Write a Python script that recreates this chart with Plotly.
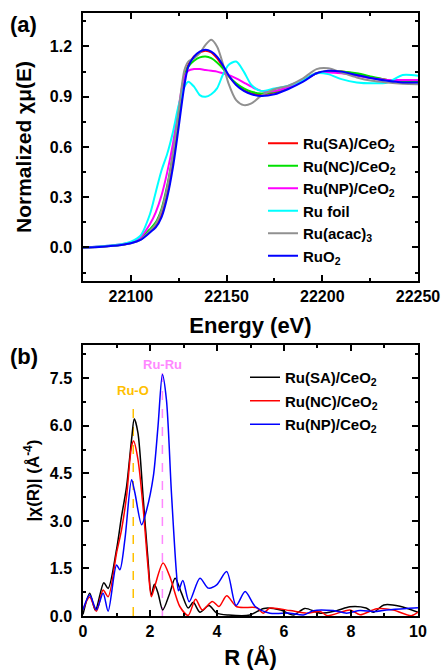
import plotly.graph_objects as go

# ---------------- Panel (a): XANES ----------------
energy = [22075, 22085, 22095, 22100, 22105, 22110, 22113, 22116, 22119, 22122,
          22125, 22128, 22130, 22133, 22136, 22139, 22142, 22145, 22148, 22151,
          22155, 22159, 22163, 22168, 22175, 22182, 22190, 22197, 22203, 22210,
          22218, 22226, 22234, 22242, 22250]

xanes_sa = [0.0, 0.006, 0.016, 0.027, 0.05, 0.10, 0.13, 0.20, 0.34, 0.53,
            0.78, 1.01, 1.09, 1.14, 1.165, 1.175, 1.165, 1.13, 1.08, 1.025,
            0.975, 0.94, 0.92, 0.915, 0.925, 0.95, 0.995, 1.04, 1.05, 1.05,
            1.035, 1.015, 1.0, 0.99, 0.99]
xanes_nc = [0.0, 0.006, 0.017, 0.028, 0.055, 0.11, 0.15, 0.23, 0.37, 0.56,
            0.80, 1.02, 1.08, 1.115, 1.135, 1.14, 1.13, 1.105, 1.07, 1.025,
            0.98, 0.95, 0.93, 0.92, 0.93, 0.955, 1.0, 1.04, 1.05, 1.05,
            1.04, 1.02, 1.0, 0.99, 0.99]
xanes_np = [0.0, 0.008, 0.02, 0.03, 0.06, 0.14, 0.21, 0.31, 0.45, 0.62,
            0.84, 1.02, 1.055, 1.065, 1.065, 1.06, 1.055, 1.05, 1.04, 1.03,
            1.01, 0.985, 0.96, 0.935, 0.935, 0.955, 0.995, 1.04, 1.045, 1.04,
            1.025, 1.01, 1.0, 1.0, 1.0]
xanes_foil = [0.0, 0.008, 0.02, 0.035, 0.07, 0.20, 0.33, 0.46, 0.56, 0.69,
              0.85, 0.96, 0.99, 0.96, 0.91, 0.90, 0.915, 0.95, 1.03, 1.09,
              1.11, 1.05, 0.97, 0.935, 0.95, 0.965, 1.0, 1.04, 1.035, 1.005,
              0.985, 0.98, 0.985, 1.03, 1.025]
xanes_acac = [0.0, 0.005, 0.015, 0.025, 0.045, 0.10, 0.14, 0.22, 0.36, 0.56,
              0.82, 1.06, 1.11, 1.13, 1.16, 1.21, 1.24, 1.20, 1.10, 0.98,
              0.88, 0.85, 0.86, 0.905, 0.945, 0.965, 1.01, 1.065, 1.07, 1.045,
              1.015, 0.995, 0.985, 0.978, 0.975]
xanes_ruo2 = [0.0, 0.005, 0.015, 0.025, 0.045, 0.09, 0.12, 0.18, 0.30, 0.48,
              0.72, 0.97, 1.08, 1.14, 1.17, 1.18, 1.17, 1.14, 1.09, 1.03,
              0.97, 0.935, 0.915, 0.905, 0.915, 0.945, 0.99, 1.04, 1.055, 1.05,
              1.03, 1.01, 0.995, 0.985, 0.985]

xanes_names = ["Ru(SA)/CeO<sub>2</sub>", "Ru(NC)/CeO<sub>2</sub>", "Ru(NP)/CeO<sub>2</sub>",
               "Ru foil", "Ru(acac)<sub>3</sub>", "RuO<sub>2</sub>"]
xanes_colors = ["#FF0000", "#00E000", "#FF00FF", "#00FFFF", "#909090", "#0000FF"]

energy_ticks = [22100, 22150, 22200, 22250]
xanes_yticks = [0.0, 0.3, 0.6, 0.9, 1.2]

# ---------------- Panel (b): FT-EXAFS ----------------
r_sa = [0.0, 0.2, 0.37, 0.62, 0.75, 1.0, 1.15, 1.3, 1.45, 1.53, 1.64, 1.8, 1.94,
        2.04, 2.13, 2.24, 2.38, 2.59, 2.75, 2.94, 3.14, 3.29, 3.49, 3.76, 3.99,
        4.35, 4.98, 5.4, 5.9, 6.28, 6.62, 7.08, 7.57, 7.97, 8.45, 8.67, 8.98,
        9.46, 10.0]
ft_sa = [0.05, 0.72, 0.18, 1.05, 0.87, 2.09, 3.14, 4.08, 5.57, 6.22, 5.78, 3.67, 1.77,
         0.66, 1.0, 0.72, 0.19, 0.72, 1.19, 0.72, 0.25, 0.43, 0.12, 0.33, 0.09,
         0.03, 0.03, 0.24, 0.19, 0.03, 0.24, 0.09, 0.17, 0.29, 0.25, 0.12, 0.35,
         0.31, 0.12]

r_nc = [0.0, 0.2, 0.4, 0.6, 0.75, 1.0, 1.15, 1.3, 1.45, 1.51, 1.64, 1.8, 1.94,
        2.04, 2.14, 2.39, 2.59, 2.89, 3.14, 3.36, 3.56, 3.86, 4.06, 4.29, 4.59,
        5.19, 5.38, 5.58, 6.18, 6.68, 7.08, 7.3, 7.97, 8.27, 8.77, 9.26, 9.8, 10.0]
ft_nc = [0.2, 0.6, 0.15, 0.82, 0.61, 1.98, 2.72, 3.78, 5.36, 5.52, 4.94, 3.35, 1.56,
         0.61, 0.93, 1.67, 1.25, 0.30, 0.02, 0.53, 0.19, 0.46, 0.30, 0.64, 0.29,
         0.26, 0.09, 0.25, 0.17, 0.09, 0.14, 0.01, 0.19, 0.04, 0.23, 0.19, 0.01, 0.12]

r_np = [0.0, 0.2, 0.4, 0.6, 0.75, 1.0, 1.1, 1.25, 1.45, 1.55, 1.75, 1.9, 2.1,
        2.24, 2.37, 2.49, 2.64, 2.79, 2.85, 2.98, 3.17, 3.49, 3.74, 3.99, 4.29,
        4.57, 4.84, 5.14, 5.58, 6.18, 6.58, 6.88, 7.47, 7.87, 8.27, 8.67, 9.06,
        9.66, 10.0]
ft_np = [0.2, 0.66, 0.2, 0.72, 0.15, 1.61, 1.46, 2.41, 4.3, 3.88, 2.88, 3.35, 4.41,
         6.0, 7.62, 6.83, 3.88, 1.35, 0.8, 1.12, 0.45, 1.19, 0.88, 0.98, 1.4,
         0.33, 0.77, 0.3, 0.09, 0.09, 0.03, 0.17, 0.17, 0.09, 0.17, 0.14, 0.19,
         0.24, 0.26]

ft_names = ["Ru(SA)/CeO<sub>2</sub>", "Ru(NC)/CeO<sub>2</sub>", "Ru(NP)/CeO<sub>2</sub>"]
ft_colors = ["#000000", "#FF0000", "#0000FF"]

r_ticks = [0, 2, 4, 6, 8, 10]
ft_yticks = [0.0, 1.5, 3.0, 4.5, 6.0, 7.5]

# reference bond positions
ruo_r, ruo_top = 1.5, 6.8
ruru_r, ruru_top = 2.37, 7.9

FONT = "Liberation Sans, Arial, sans-serif"


def bold(vals, fmt):
    return ["<b>" + fmt.format(v) + "</b>" for v in vals]


fig = go.Figure()

for i, (y, name, col) in enumerate(zip(
        [xanes_sa, xanes_nc, xanes_np, xanes_foil, xanes_acac, xanes_ruo2],
        xanes_names, xanes_colors)):
    fig.add_trace(go.Scatter(x=energy, y=y, mode="lines", name=name,
                             line=dict(color=col, width=2, shape="spline", smoothing=0.8),
                             xaxis="x", yaxis="y", legend="legend",
                             legendgroup="a%d" % i))

# dashed reference lines (drawn first so curves go over them)
fig.add_trace(go.Scatter(x=[ruo_r, ruo_r], y=[0, ruo_top], mode="lines",
                         line=dict(color="#FFC000", width=1.5, dash="dash"),
                         showlegend=False, xaxis="x2", yaxis="y2"))
fig.add_trace(go.Scatter(x=[ruru_r, ruru_r], y=[0, ruru_top], mode="lines",
                         line=dict(color="#FF88FF", width=1.5, dash="dash"),
                         showlegend=False, xaxis="x2", yaxis="y2"))

for i, (xr, y, name, col) in enumerate(zip([r_sa, r_nc, r_np], [ft_sa, ft_nc, ft_np],
                                             ft_names, ft_colors)):
    fig.add_trace(go.Scatter(x=xr, y=y, mode="lines", name=name,
                             line=dict(color=col, width=1.5, shape="spline", smoothing=0.8),
                             xaxis="x2", yaxis="y2", legend="legend2",
                             legendgroup="b%d" % i))

axis_common = dict(showline=True, linecolor="black", linewidth=1.5, mirror="allticks",
                   ticks="inside", ticklen=6, tickwidth=1.5, tickcolor="black",
                   showgrid=False, zeroline=False, automargin=False,
                   tickfont=dict(family=FONT, size=16, color="black"))

fig.update_layout(
    width=442, height=670,
    margin=dict(l=0, r=0, t=0, b=0),
    paper_bgcolor="white", plot_bgcolor="white",
    font=dict(family=FONT, color="black"),
    xaxis=dict(domain=[0.1878, 0.9457], anchor="y", range=[22075, 22250],
               tickvals=energy_ticks, ticktext=bold(energy_ticks, "{}"),
               minor=dict(ticks="inside", ticklen=3, tickwidth=1.5, dtick=25, tick0=22075),
               title=dict(text="<b>Energy (eV)</b>", font=dict(family=FONT, size=22), standoff=14),
               **axis_common),
    yaxis=dict(domain=[0.5806, 0.9806], anchor="x", range=[-0.2, 1.4],
               tickvals=xanes_yticks, ticktext=bold(xanes_yticks, "{:.1f}"),
               minor=dict(ticks="inside", ticklen=3, tickwidth=1.5, dtick=0.15, tick0=0),
               ticklabelstandoff=6,
               title=dict(text="<b>Normalized χμ(E)</b>", font=dict(family=FONT, size=21), standoff=12),
               **axis_common),
    xaxis2=dict(domain=[0.1878, 0.9457], anchor="y2", range=[0, 10],
                tickvals=r_ticks, ticktext=bold(r_ticks, "{}"),
                minor=dict(ticks="inside", ticklen=3, tickwidth=1.5, dtick=1, tick0=0),
                title=dict(text="<b>R (Å)</b>", font=dict(family=FONT, size=22), standoff=14),
                **axis_common),
    yaxis2=dict(domain=[0.0806, 0.4851], anchor="x2", range=[0, 8.55],
                tickvals=ft_yticks, ticktext=bold(ft_yticks, "{:.1f}"),
                minor=dict(ticks="inside", ticklen=3, tickwidth=1.5, dtick=0.75, tick0=0),
                ticklabelstandoff=6,
                title=dict(text="<b>|χ(R)| (Å<sup>-4</sup>)</b>", font=dict(family=FONT, size=17), standoff=6),
                **axis_common),
    legend=dict(x=263/442, y=1 - 127/670, xanchor="left", yanchor="top",
                bgcolor="rgba(0,0,0,0)", borderwidth=0, tracegroupgap=0,
                font=dict(family=FONT, size=15, color="black", weight="bold")),
    legend2=dict(x=245/442, y=1 - 361/670, xanchor="left", yanchor="top",
                 bgcolor="rgba(0,0,0,0)", borderwidth=0, tracegroupgap=1,
                 font=dict(family=FONT, size=15, color="black", weight="bold")),
    showlegend=True,
    annotations=[
        dict(text="<b>(a)</b>", x=8/442, y=1 - 24/670, xref="paper", yref="paper",
             xanchor="left", yanchor="middle", showarrow=False,
             font=dict(family=FONT, size=22, color="black")),
        dict(text="<b>(b)</b>", x=8/442, y=1 - 356/670, xref="paper", yref="paper",
             xanchor="left", yanchor="middle", showarrow=False,
             font=dict(family=FONT, size=22, color="black")),
        dict(text="<b>Ru-O</b>", x=ruo_r, y=ruo_top + 0.3, xref="x2", yref="y2",
             xanchor="center", yanchor="middle", showarrow=False,
             font=dict(family=FONT, size=13, color="#FFC000")),
        dict(text="<b>Ru-Ru</b>", x=ruru_r, y=ruru_top + 0.05, xref="x2", yref="y2",
             xanchor="center", yanchor="middle", showarrow=False,
             font=dict(family=FONT, size=13, color="#FF88FF")),
    ],
)

fig.write_html("out.html")
